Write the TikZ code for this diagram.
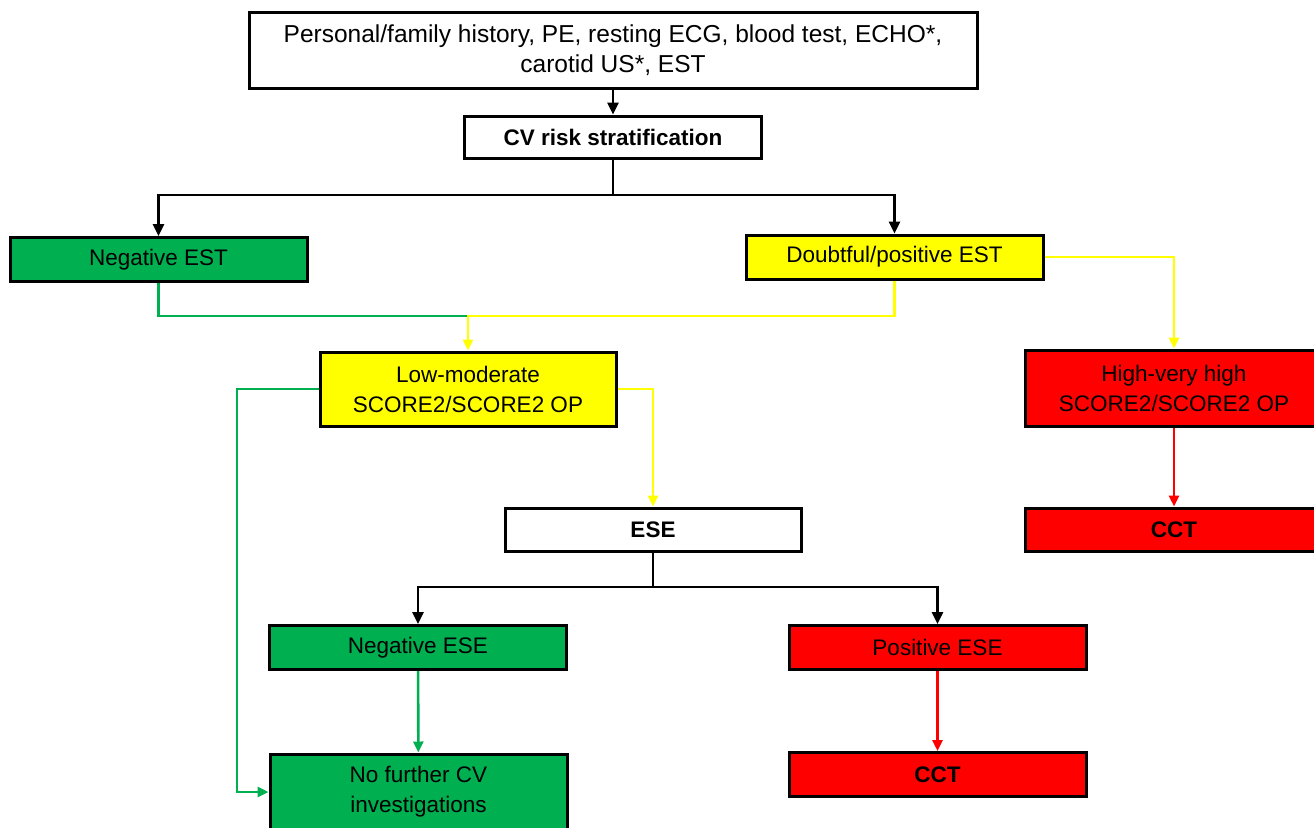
\documentclass[tikz,border=0pt]{standalone}
\usepackage{fontspec}
\setmainfont{Liberation Sans}
\usetikzlibrary{arrows.meta}
\definecolor{cgreen}{HTML}{00B050}
\definecolor{cyellow}{HTML}{FFFF00}
\definecolor{cred}{HTML}{FF0000}
\begin{document}
\begin{tikzpicture}[x=1pt,y=-1pt,
  box/.style={draw=black,line width=3pt,rectangle,inner sep=0pt,align=center,
    font=\fontsize{22.5}{30}\selectfont},
  wbox/.style={box,fill=white},
  gbox/.style={box,fill=cgreen},
  ybox/.style={box,fill=cyellow},
  rbox/.style={box,fill=cred},
  bold/.style={font=\fontsize{22.5}{30}\selectfont\bfseries},
  w1/.style={minimum width=297pt,minimum height=44pt},
  conn/.style={line width=2.6pt},
  blk/.style={conn,draw=black,-{Triangle[length=12pt,width=11pt]}},
  blkl/.style={conn,draw=black},
  garr/.style={conn,draw=cgreen,-{Triangle[length=11pt,width=10pt]}},
  gline/.style={conn,draw=cgreen},
  yarr/.style={conn,draw=cyellow,-{Triangle[length=11pt,width=10pt]}},
  rarr/.style={conn,draw=cred,-{Triangle[length=11pt,width=10pt]}}
]
\useasboundingbox (0,0) rectangle (1314,827);
\clip (0,0) rectangle (1314,827);
\fill[white] (0,0) rectangle (1314,827);

\node[wbox,minimum width=728pt,minimum height=76pt,font=\fontsize{24.5}{30}\selectfont] (top) at (613,50)
  {Personal/family history, PE, resting ECG, blood test, ECHO*,\\carotid US*, EST};
\node[wbox,bold,minimum width=297pt,minimum height=42pt] (cv) at (613,137) {CV risk stratification};
\node[gbox,w1] (negest) at (158.5,259.5) {Negative EST};
\node[ybox,w1] (doubt) at (894.5,257) {Doubtful/positive EST};
\node[ybox,minimum width=296pt,minimum height=74pt] (low) at (468,389) {Low-moderate\\SCORE2/SCORE2 OP};
\node[rbox,minimum width=298pt,minimum height=76pt] (high) at (1174,388) {High-very high\\SCORE2/SCORE2 OP};
\node[rbox,bold,minimum width=298pt,minimum height=43pt] (cct1) at (1174,529.5) {CCT};
\node[wbox,bold,minimum width=296pt,minimum height=43pt] (ese) at (653,529.5) {ESE};
\node[gbox,w1] (negese) at (418,647.5) {Negative ESE};
\node[rbox,w1] (posese) at (937.5,647.5) {Positive ESE};
\node[gbox,minimum width=297pt,minimum height=76pt] (nofur) at (418.5,792) {No further CV\\investigations};
\node[rbox,bold,w1] (cct2) at (937.5,774.5) {CCT};

\coordinate (j1) at (613,195);
\coordinate (j2) at (468,316);
\coordinate (j3) at (653,587);
\coordinate (j4) at (237,389);

\draw[blk] (top) -- (cv);
\draw[blkl] (cv.south) -- (j1);
\draw[blk] (j1) -| (negest.north);
\draw[blk] (j1) -| (doubt.north);

\draw[gline] (negest.south) |- (j2);
\draw[yarr] (doubt.south) |- (j2) -- (low.north);
\draw[yarr] (doubt.east) -| (high.north);
\draw[rarr] (high) -- (cct1);
\draw[yarr] (low.east) -| (ese.north);

\draw[blkl] (ese.south) -- (j3);
\draw[blk] (j3) -| (negese.north);
\draw[blk] (j3) -| (posese.north);
\draw[garr] (negese) -- (nofur);
\draw[rarr] (posese) -- (cct2);
\draw[garr] (low.west) -- (j4) |- (nofur.west);
\end{tikzpicture}
\end{document}
